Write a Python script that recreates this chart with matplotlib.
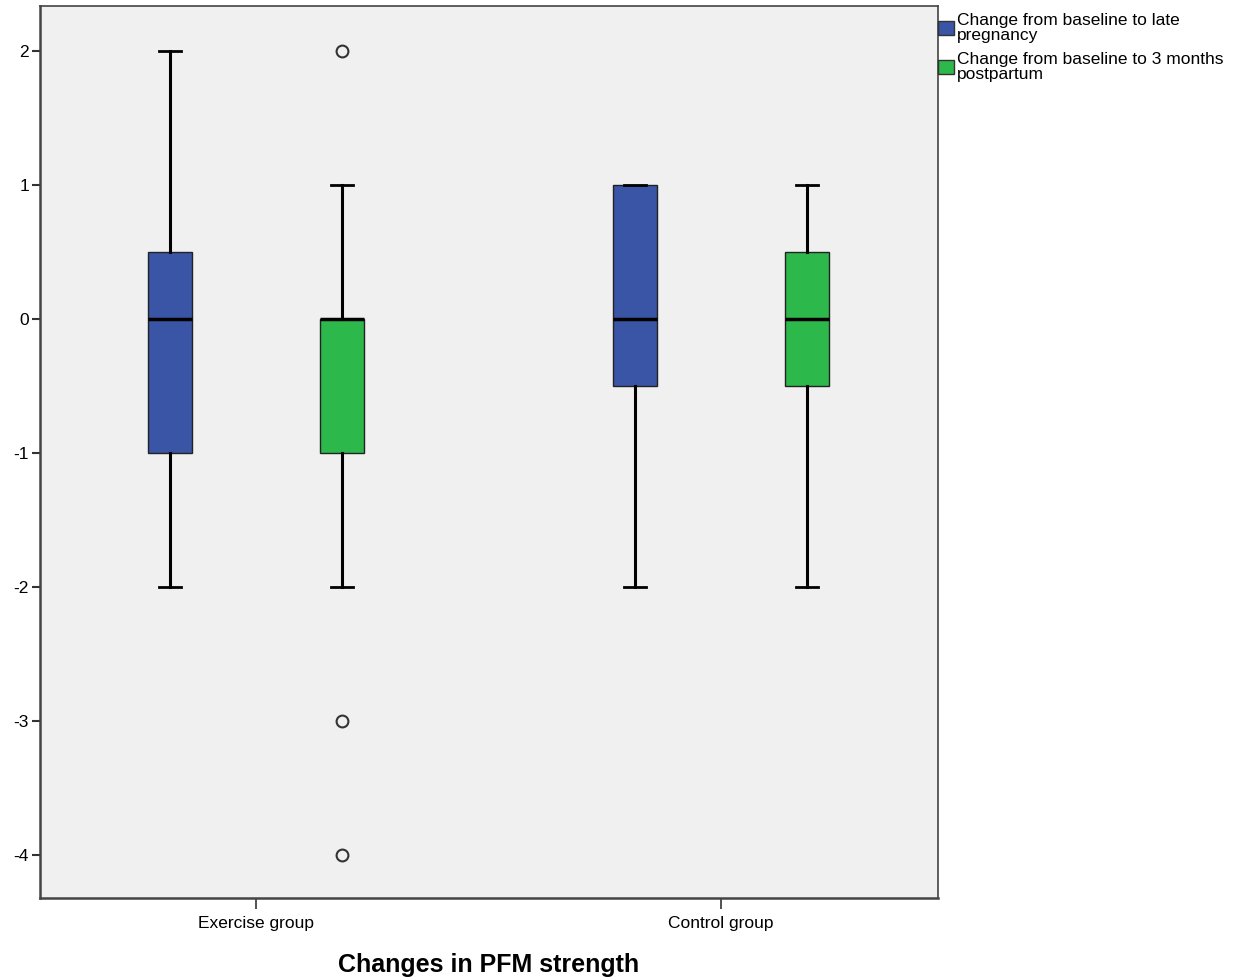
import matplotlib
matplotlib.use("Agg")
import matplotlib.pyplot as plt
from matplotlib.patches import Patch

plt.rcParams['font.family'] = ['Liberation Sans', 'DejaVu Sans']

groups = ["Exercise group", "Control group"]
series = ["Change from baseline to late\npregnancy",
          "Change from baseline to 3 months\npostpartum"]
colors = ["#3a54a6", "#2db84b"]

# stats per [group][series]
whislo = [[-2, -2], [-2, -2]]
q1 = [[-1, -1], [-0.5, -0.5]]
med = [[0, 0], [0, 0]]
q3 = [[0.5, 0], [1, 0.5]]
whishi = [[2, 1], [1, 1]]
fliers = [[[], [2, -3, -4]], [[], []]]

yticks = [2, 1, 0, -1, -2, -3, -4]

fig = plt.figure(figsize=(12.47, 9.8), dpi=100)
ax = fig.add_axes([40/1247, 1-898/980, 898/1247, 892/980])
ax.set_facecolor("#f0f0f0")

offset = 0.185
width = 0.0946
for gi in range(len(groups)):
    for si in range(len(series)):
        st = [dict(whislo=whislo[gi][si], q1=q1[gi][si], med=med[gi][si],
                   q3=q3[gi][si], whishi=whishi[gi][si], fliers=fliers[gi][si])]
        pos = gi + (si - 0.5) * 2 * offset
        ax.bxp(st, positions=[pos], widths=[width], capwidths=[0.047],
               patch_artist=True, manage_ticks=False,
               boxprops=dict(facecolor=colors[si], edgecolor="#222222", linewidth=1.0),
               medianprops=dict(color="black", linewidth=2.5),
               whiskerprops=dict(color="black", linewidth=2.2),
               capprops=dict(color="black", linewidth=2.0),
               flierprops=dict(marker="o", markersize=8.5, markerfacecolor="none",
                               markeredgecolor="#333333", markeredgewidth=1.5))

ax.set_xlim(-0.4645, 1.4667)
ax.set_ylim(-4.32, 2.336)
ax.set_yticks(yticks)
ax.set_yticklabels([str(v) for v in yticks])
ax.set_xticks(range(len(groups)))
ax.set_xticklabels(groups)
ax.tick_params(axis='y', length=6, width=1.5, labelsize=12.5, color="#333333", pad=2)
ax.tick_params(axis='x', length=8, width=1.2, labelsize=12.5, color="#333333", pad=5)
for s in ["left", "bottom"]:
    ax.spines[s].set_color("#444444")
    ax.spines[s].set_linewidth(1.8)
for s in ["top", "right"]:
    ax.spines[s].set_color("#444444")
    ax.spines[s].set_linewidth(1.2)

ax.set_xlabel("Changes in PFM strength", fontsize=18, fontweight="bold", labelpad=16)

handles = [Patch(facecolor=c, edgecolor="#333333", linewidth=1.0) for c in colors]
leg = fig.legend(handles, series, loc="upper left",
                 bbox_to_anchor=(938/1247, 1-13/980), frameon=False,
                 borderpad=0, handlelength=0.9, handleheight=0.9,
                 handletextpad=0.2, labelspacing=0.5, fontsize=12.5,
                 borderaxespad=0)
for t in leg.get_texts():
    t.set_linespacing(1.02)

fig.savefig("out.png", dpi=100)
